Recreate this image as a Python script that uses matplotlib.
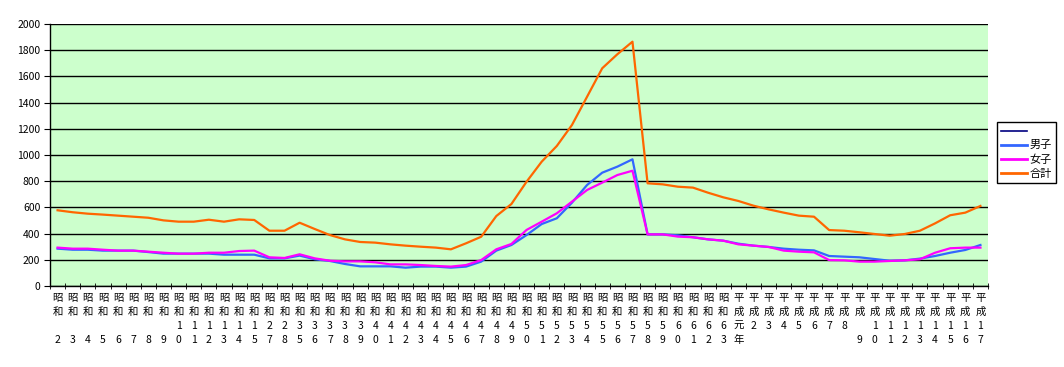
import matplotlib
matplotlib.use('Agg')
import numpy as np
from matplotlib import pyplot as plt
from matplotlib.lines import Line2D

plt.rcParams['font.family'] = ['Noto Sans CJK JP', 'DejaVu Sans']

# year labels (spaces keep the stacked rows as in the original)
year_labels = ['昭和 2', '昭和 3', '昭和 4', '昭和 5', '昭和 6', '昭和 7', '昭和 8', '昭和 9',
               '昭和10', '昭和11', '昭和12', '昭和13', '昭和14', '昭和15',
               '昭和27', '昭和28',
               '昭和35', '昭和36', '昭和37', '昭和38', '昭和39',
               '昭和40', '昭和41', '昭和42', '昭和43', '昭和44', '昭和45', '昭和46', '昭和47',
               '昭和48', '昭和49', '昭和50', '昭和51', '昭和52', '昭和53', '昭和54', '昭和55',
               '昭和56', '昭和57', '昭和58', '昭和59', '昭和60', '昭和61', '昭和62', '昭和63',
               '平成元年', '平成2 ', '平成3 ', '平成4 ', '平成5 ', '平成6 ', '平成7 ', '平成8 ',
               '平成 9', '平成10', '平成11', '平成12', '平成13', '平成14', '平成15', '平成16', '平成17']

boys = [285, 277, 277, 270, 270, 270, 259, 247, 247, 247, 247, 239, 239, 239,
        211, 211, 232, 204, 191, 168, 150, 150, 150, 140, 148, 148, 140, 148,
        186, 270, 313, 389, 473, 517, 636, 771, 865, 911, 967,
        394, 394, 387, 372, 356, 346, 323, 308, 298, 285, 277,
        272, 229, 224, 219, 206, 193, 196, 209, 229, 254, 275, 313]

girls = [293, 285, 285, 277, 270, 270, 262, 254, 247, 247, 254, 254, 267, 270,
         219, 214, 242, 211, 193, 188, 188, 181, 165, 165, 160, 153, 148, 160,
         198, 280, 321, 428, 491, 555, 644, 733, 789, 847, 880,
         394, 394, 377, 372, 356, 346, 318, 308, 298, 270, 262,
         257, 198, 196, 186, 186, 191, 196, 204, 254, 288, 293, 293]

total = [578, 563, 552, 545, 537, 529, 521, 501, 491, 491, 506, 491, 509, 504,
         422, 422, 483, 435, 389, 356, 336, 331, 318, 308, 300, 293, 280, 326,
         376, 534, 626, 796, 949, 1069, 1229, 1445, 1662, 1769, 1865,
         784, 776, 758, 751, 712, 677, 649, 613, 585, 560, 537,
         529, 427, 422, 410, 397, 384, 397, 422, 478, 540, 560, 611]

W, H = 1064, 367
fig = plt.figure(figsize=(W / 100, H / 100), dpi=100)
ax = fig.add_axes([50 / W, 1 - 286 / H, 938 / W, 262 / H])
ax.set_facecolor('#CCFFCC')

x = np.arange(len(year_labels))
ax.plot([], [], color='#000080', lw=1.2)
ax.plot(x, boys, color='#3366FF', lw=1.6)
ax.plot(x, girls, color='#FF00FF', lw=1.6)
ax.plot(x, total, color='#FF6600', lw=1.6)

ax.set_xlim(-0.5, len(year_labels) - 0.5)
ax.set_ylim(0, 2000)
ax.set_yticks(np.arange(0, 2001, 200))
ax.yaxis.grid(True, color='black', lw=1)
ax.set_axisbelow(True)

for s in ['top', 'right']:
    ax.spines[s].set_visible(False)
for s in ['left', 'bottom']:
    ax.spines[s].set_color('black')
    ax.spines[s].set_linewidth(1)

ax.set_xticks(x)
ax.set_xticklabels(['\n'.join(list(s)) for s in year_labels], fontsize=7.5,
                   linespacing=1.5, va='top')
ax.set_xticks(np.arange(-0.5, len(year_labels)), minor=True)
ax.tick_params(axis='x', which='major', length=0, pad=5)
ax.tick_params(axis='x', which='minor', length=5, direction='inout', color='black')
ax.tick_params(axis='y', length=4, direction='out', color='black', labelsize=7.5, pad=3)

handles = [Line2D([], [], color='#000080', lw=1.2),
           Line2D([], [], color='#3366FF', lw=2),
           Line2D([], [], color='#FF00FF', lw=2),
           Line2D([], [], color='#FF6600', lw=2)]
labels = [' ', '男子', '女子', '合計']
leg = fig.legend(handles, labels, loc='upper left',
                 bbox_to_anchor=(997 / W, 1 - 122 / H),
                 fontsize=8, frameon=True, fancybox=False, framealpha=1,
                 edgecolor='black', handlelength=2.3, handletextpad=0.2,
                 borderpad=0.4, labelspacing=0.35, borderaxespad=0)
leg.get_frame().set_linewidth(1)

fig.savefig('out.png', dpi=100)
